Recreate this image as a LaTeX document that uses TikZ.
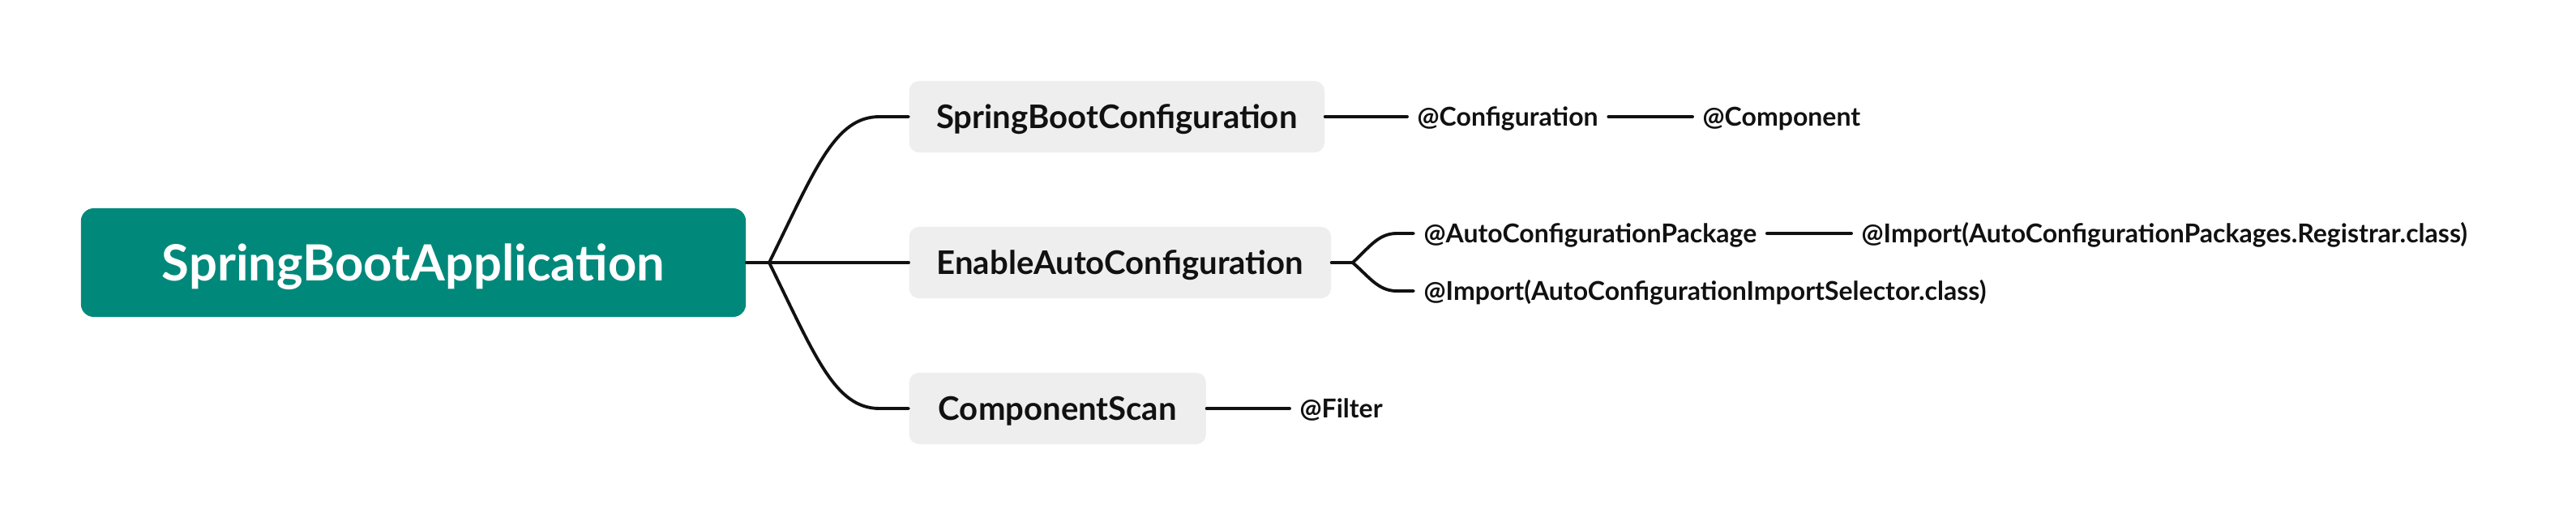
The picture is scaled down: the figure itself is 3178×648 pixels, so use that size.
\documentclass[tikz,border=0pt]{standalone}
\usepackage{fontspec}
\setmainfont{Lato}
\usetikzlibrary{calc}
\definecolor{teal600}{RGB}{0,137,123}
\definecolor{boxgray}{RGB}{238,238,238}
\definecolor{linec}{RGB}{17,17,17}
\begin{document}
\begin{tikzpicture}[x=0.01cm,y=-0.01cm,
  conn/.style={draw=linec, line width=1.1pt, line cap=round, line join=round},
  rootbox/.style={fill=teal600, rounded corners=0.16cm, text=white, minimum width=8.2cm, minimum height=1.34cm, inner sep=0pt, font=\fontsize{17.5}{20}\selectfont\bfseries, text height=12.54pt, text depth=0pt},
  childbox/.style={fill=boxgray, rounded corners=0.12cm, minimum height=0.88cm, inner sep=0pt, text=linec, font=\fontsize{11.4}{13}\selectfont\bfseries, anchor=west, text height=8.17pt, text depth=0pt},
  leaf/.style={inner xsep=0.12cm, inner ysep=0pt, anchor=west, text=linec, font=\fontsize{9.1}{11}\selectfont\bfseries, text height=6.52pt, text depth=0pt}
]
\fill[white] (0,0) rectangle (3178,648);
\useasboundingbox (0,0) rectangle (3178,648);

\node[rootbox] (root) at (510,324) {SpringBootApplication};
\node[childbox, minimum width=5.12cm] (sbc) at (1121,144) {SpringBootConfiguration};
\node[childbox, minimum width=5.20cm] (eac) at (1121,324) {EnableAutoConfiguration};
\node[childbox, minimum width=3.66cm] (cs) at (1121,504) {ComponentScan};

\node[leaf] (conf) at (1736,144) {@Configuration};
\node[leaf] (comp) at (2088,144) {@Component};
\node[leaf] (acp) at (1744,288) {@AutoConfigurationPackage};
\node[leaf] (reg) at (2284,288) {@Import(AutoConfigurationPackages.Registrar.class)};
\node[leaf] (sel) at (1744,359) {@Import(AutoConfigurationImportSelector.class)};
\node[leaf] (filt) at (1591,504) {@Filter};

\coordinate (b0) at ($(root.east)+(28,0)$);
\coordinate (b1) at ($(eac.east)+(26,0)$);

\draw[conn] (root.east) -- (b0);
\draw[conn] (b0) -- (eac.west);
\draw[conn] (b0) .. controls +(57,-116) and ($(sbc.west)+(-91,0)$) .. ($(sbc.west)+(-36,0)$) -- (sbc.west);
\draw[conn] (b0) .. controls +(57,116) and ($(cs.west)+(-91,0)$) .. ($(cs.west)+(-36,0)$) -- (cs.west);

\draw[conn] (sbc.east) -- (conf.west);
\draw[conn] (conf.east) -- (comp.west);

\draw[conn] (eac.east) -- (b1);
\draw[conn] (b1) .. controls +(20,-18) and ($(acp.west)+(-44,0)$) .. ($(acp.west)+(-21,0)$) -- (acp.west);
\draw[conn] (b1) .. controls +(20,17) and ($(sel.west)+(-44,0)$) .. ($(sel.west)+(-21,0)$) -- (sel.west);
\draw[conn] (acp.east) -- (reg.west);

\draw[conn] (cs.east) -- (filt.west);
\end{tikzpicture}
\end{document}
